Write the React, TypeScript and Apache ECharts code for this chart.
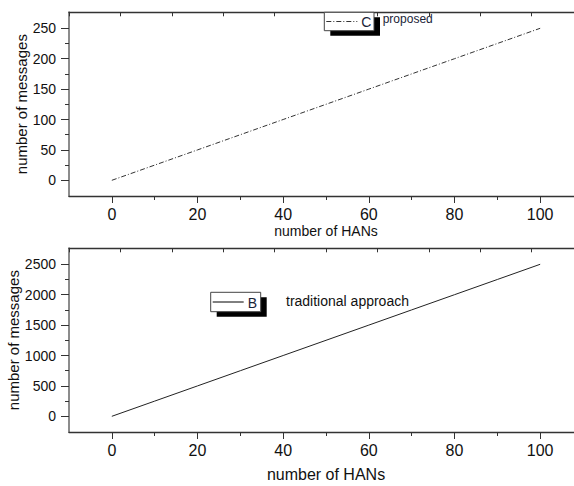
import { useEffect, useRef } from 'react';
import * as echarts from 'echarts';

// ---- data ----
const hans = [0, 10, 20, 30, 40, 50, 60, 70, 80, 90, 100];
const proposedMessages = [0, 25, 50, 75, 100, 125, 150, 175, 200, 225, 250];
const traditionalMessages = [0, 250, 500, 750, 1000, 1250, 1500, 1750, 2000, 2250, 2500];

const xTickLabels = [0, 20, 40, 60, 80, 100];
const xMinorTicks = [10, 30, 50, 70, 90];
const yTopTickLabels = [0, 50, 100, 150, 200, 250];
const yTopMinorTicks = [25, 75, 125, 175, 225];
const yBottomTickLabels = [0, 500, 1000, 1500, 2000, 2500];
const yBottomMinorTicks = [250, 750, 1250, 1750, 2250];

const FONT = '"Liberation Sans", Arial, sans-serif';
const TXT = '#111';
const plain = (v: number) => String(v);

function mainX(gridIndex: number, nameGap: number, nameSize: number) {
  return {
    type: 'value', gridIndex, position: 'bottom', min: -10, max: 110,
    name: 'number of HANs', nameLocation: 'middle', nameGap, nameMoveOverlap: false,
    nameTextStyle: { fontFamily: FONT, fontSize: nameSize, color: TXT },
    axisLine: { show: true, onZero: false, lineStyle: { color: '#333', width: 1.3 } },
    axisTick: { show: true, inside: false, length: 7, customValues: xTickLabels, lineStyle: { color: '#333', width: 1 } },
    axisLabel: { show: true, customValues: xTickLabels, formatter: plain, margin: 10, fontFamily: FONT, fontSize: 16, color: TXT },
    splitLine: { show: false },
  };
}
function minorX(gridIndex: number) {
  return {
    type: 'value', gridIndex, position: 'bottom', min: -10, max: 110,
    axisLine: { show: false, onZero: false },
    axisTick: { show: true, inside: false, length: 4, customValues: xMinorTicks, lineStyle: { color: '#333', width: 1 } },
    axisLabel: { show: false },
    splitLine: { show: false },
  };
}
function topX(gridIndex: number) {
  return {
    type: 'value', gridIndex, position: 'top', min: 0, max: 10, interval: 1,
    axisLine: { show: true, onZero: false, lineStyle: { color: '#333', width: 1.3 } },
    axisTick: { show: true, inside: true, length: 4, lineStyle: { color: '#333', width: 1 } },
    axisLabel: { show: false },
    splitLine: { show: false },
  };
}
function mainY(gridIndex: number, min: number, max: number, labels: number[], nameGap: number) {
  return {
    type: 'value', gridIndex, position: 'left', min, max,
    name: 'number of messages', nameLocation: 'middle', nameGap, nameMoveOverlap: false,
    nameTextStyle: { fontFamily: FONT, fontSize: 15, color: TXT },
    axisLine: { show: true, onZero: false, lineStyle: { color: '#8c8c8c', width: 2 } },
    axisTick: { show: true, inside: false, length: 8, customValues: labels, lineStyle: { color: '#333', width: 1 } },
    axisLabel: { show: true, customValues: labels, formatter: plain, margin: 13, fontFamily: FONT, fontSize: 14, color: TXT },
    splitLine: { show: false },
  };
}
function minorY(gridIndex: number, min: number, max: number, ticks: number[]) {
  return {
    type: 'value', gridIndex, position: 'left', min, max,
    axisLine: { show: false, onZero: false },
    axisTick: { show: true, inside: false, length: 4, customValues: ticks, lineStyle: { color: '#333', width: 1 } },
    axisLabel: { show: false },
    splitLine: { show: false },
  };
}

function legendBox(x: number, y: number, w: number, h: number, dash: any, key: string, lineColor: string) {
  return [
    { type: 'rect', shape: { x: x + 6, y: y + 5, width: w, height: h }, style: { fill: '#000' }, z: 100 },
    { type: 'rect', shape: { x, y, width: w, height: h }, style: { fill: '#fff', stroke: '#444', lineWidth: 1 }, z: 101 },
    { type: 'line', shape: { x1: x + 2, y1: y + h / 2, x2: x + 33, y2: y + h / 2 }, style: { stroke: lineColor, lineWidth: 1, lineDash: dash }, z: 102 },
    { type: 'text', x: x + 37, y: y + h / 2 + 0.5, style: { text: key, fontFamily: FONT, fontSize: 14, fill: '#1a2438', textVerticalAlign: 'middle', textAlign: 'left' }, z: 102 },
  ];
}

export default function App() {
  const ref = useRef<HTMLDivElement>(null);
  useEffect(() => {
    if (!ref.current) return;
    const chart = echarts.init(ref.current, null, { renderer: 'svg' });
    const option: any = {
      animation: false,
      backgroundColor: '#fff',
      grid: [
        { left: 69, top: 12.3, width: 514, height: 183.7, containLabel: false, outerBoundsMode: 'none' },
        { left: 69, top: 248.3, width: 514, height: 183.7, containLabel: false, outerBoundsMode: 'none' },
      ],
      xAxis: [
        mainX(0, 28, 14), minorX(0), topX(0),
        mainX(1, 34, 16), minorX(1), topX(1),
      ],
      yAxis: [
        mainY(0, -25.8, 276.3, yTopTickLabels, 40), minorY(0, -25.8, 276.3, yTopMinorTicks),
        mainY(1, -258, 2763, yBottomTickLabels, 48), minorY(1, -258, 2763, yBottomMinorTicks),
      ],
      series: [
        {
          type: 'line', name: 'proposed', xAxisIndex: 0, yAxisIndex: 0, showSymbol: false,
          data: hans.map((h, i) => [h, proposedMessages[i]]),
          lineStyle: { color: '#333', width: 1, type: [5, 2, 1, 2] },
        },
        {
          type: 'line', name: 'traditional approach', xAxisIndex: 3, yAxisIndex: 2, showSymbol: false,
          data: hans.map((h, i) => [h, traditionalMessages[i]]),
          lineStyle: { color: '#222', width: 1, type: 'solid' },
        },
      ],
      graphic: [
        ...legendBox(324.3, 12.3, 49.7, 18.4, [5, 2, 1, 2], 'C', '#333'),
        { type: 'text', x: 382.7, y: 18.5, style: { text: 'proposed', fontFamily: FONT, fontSize: 12, fill: '#1a2438', textVerticalAlign: 'middle' }, z: 102 },
        ...legendBox(210.7, 292.3, 50, 19.4, null, 'B', '#000'),
        { type: 'text', x: 286, y: 301, style: { text: 'traditional approach', fontFamily: FONT, fontSize: 14, fill: '#111', textVerticalAlign: 'middle' }, z: 102 },
      ],
    };
    chart.setOption(option);
    return () => chart.dispose();
  }, []);
  return <div ref={ref} style={{ position: 'absolute', left: 0, top: 0, width: 574, height: 486 }} />;
}
